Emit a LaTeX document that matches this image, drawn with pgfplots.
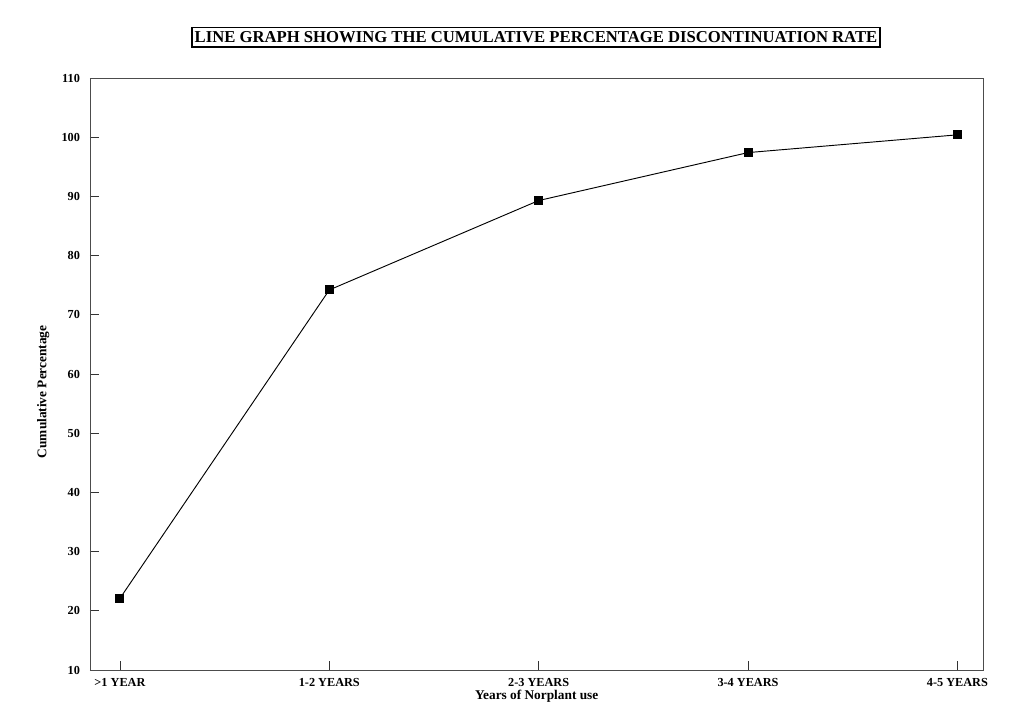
\documentclass[border=0pt]{standalone}
\usepackage{pgfplots}
\pgfplotsset{compat=1.18}
\usepackage{fontspec}
\setmainfont{Liberation Serif}
\begin{document}
\begin{tikzpicture}[x=1pt,y=1pt]
\path[use as bounding box] (-67.5,-42) rectangle (694.5,502.5);
\begin{axis}[
  at={(0,0)}, anchor=south west,
  scale only axis, width=670pt, height=444pt,
  xmin=-0.143, xmax=4.124, ymin=10, ymax=110,
  xtick={0,1,2,3,4},
  xticklabels={>1 YEAR,1-2 YEARS,2-3 YEARS,3-4 YEARS,4-5 YEARS},
  ytick={10,20,...,110},
  tick align=inside,
  major tick length=7pt,
  xtick pos=bottom, ytick pos=left,
  axis line style={black!70, line width=0.6pt},
  tick style={black!80, line width=0.5pt},
  /pgf/number format/assume math mode=true,
  ticklabel style={font=\bfseries\fontsize{9.2}{11}\selectfont},
  xticklabel style={yshift=-2.5pt},
  yticklabel style={xshift=-4pt},
  xlabel={Years of Norplant use},
  ylabel={Cumulative Percentage},
  label style={font=\bfseries\fontsize{10}{12}\selectfont},
  xlabel style={at={(axis description cs:0.5,0)}, anchor=center, yshift=-20pt},
  ylabel style={at={(axis description cs:0,0.47)}, anchor=center, yshift=35pt},
  clip=false,
]
\addplot[black, line width=0.7pt, mark=square*, mark size=3pt] coordinates {
  (0,22.1) (1,74.2) (2,89.3) (3,97.4) (4,100.4)
};
\end{axis}
\node[draw, line width=0.9pt, inner xsep=2pt, inner ysep=3pt, font=\bfseries\fontsize{12.5}{14}\selectfont] at (334.5,474.5) {LINE GRAPH SHOWING THE CUMULATIVE PERCENTAGE DISCONTINUATION RATE};
\end{tikzpicture}
\end{document}
